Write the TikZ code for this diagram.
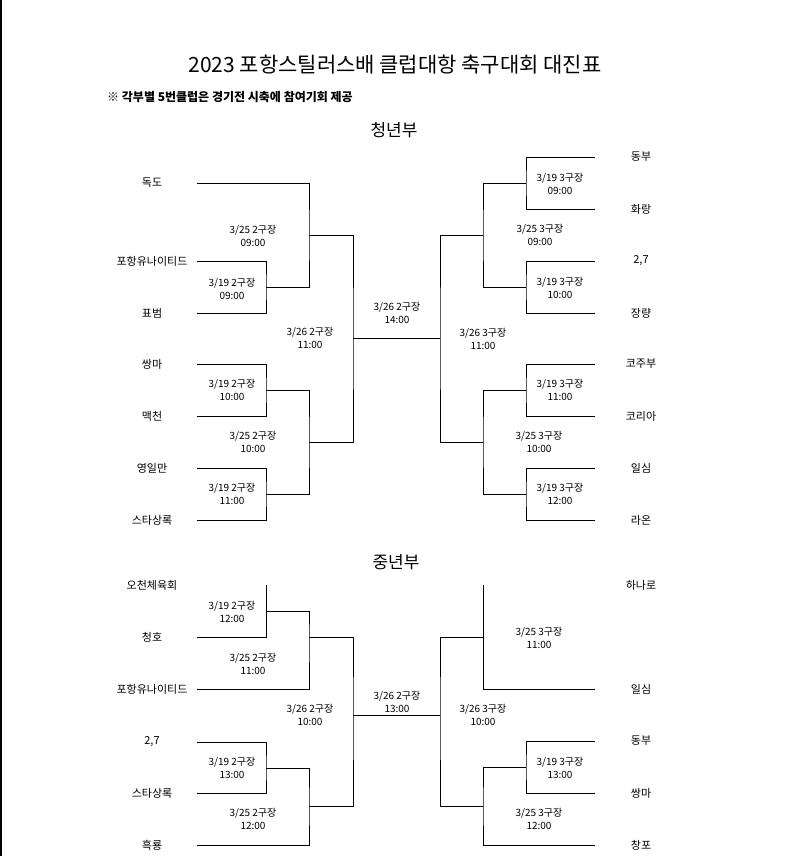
\documentclass[tikz,border=0pt]{standalone}
\usepackage{fontspec}
\setmainfont{Noto Sans CJK KR}
\begin{document}
\begin{tikzpicture}[x=1pt,y=-1pt,
  team/.style={inner sep=0pt, font=\fontsize{11}{12}\selectfont},
  game/.style={inner sep=0pt, align=center, font=\fontsize{10}{13}\selectfont},
  head/.style={inner sep=0pt, font=\fontsize{17}{19}\selectfont},
  bk/.style={line width=1pt}]
\useasboundingbox (0,0) rectangle (790,856);
\draw[line width=1.5pt] (0.75,0) -- (0.75,856);
\node[inner sep=0pt, font=\fontsize{21}{24}\selectfont] (title) at (395,65) {2023 포항스틸러스배 클럽대항 축구대회 대진표};
\node[inner sep=0pt, anchor=west, font=\bfseries\fontsize{12}{14}\selectfont] (note) at (107,97) {※ 각부별 5번클럽은 경기전 시축에 참여기회 제공};
\node[head] (youth) at (394,130) {청년부};
\node[head] (middle) at (396,562) {중년부};
% 청년부 left
\node[team] (yl1) at (152,183) {독도};
\node[team] (yl2) at (152,261) {포항유나이티드};
\node[team] (yl3) at (152,313) {표범};
\node[team] (yl4) at (152,364) {쌍마};
\node[team] (yl5) at (152,416) {맥천};
\node[team] (yl6) at (152,468) {영일만};
\node[team] (yl7) at (152,520) {스타상록};
\coordinate (yl1e) at (197,183);
\coordinate (yl2e) at (197,261);
\coordinate (yl3e) at (197,313);
\coordinate (yl4e) at (197,364);
\coordinate (yl5e) at (197,416);
\coordinate (yl6e) at (197,468);
\coordinate (yl7e) at (197,520);
\coordinate (yla) at (266,287);
\coordinate (ylb) at (309,235);
\coordinate (ylc) at (266,390);
\coordinate (yld) at (266,494);
\coordinate (yle) at (309,442);
\coordinate (ylf) at (353,338);
\draw[bk] (yl2e) -| (yla) |- (yl3e);
\draw[bk] (yl1e) -| (ylb) |- (yla);
\draw[bk] (yl4e) -| (ylc) |- (yl5e);
\draw[bk] (yl6e) -| (yld) |- (yl7e);
\draw[bk] (ylc) -| (yle) |- (yld);
\draw[bk] (ylb) -| (ylf) |- (yle);
\node[game] (gyla) at (232,289) {3/19 2구장\\09:00};
\node[game] (gylb) at (253,236) {3/25 2구장\\09:00};
\node[game] (gylc) at (232,390) {3/19 2구장\\10:00};
\node[game] (gyle) at (253,442) {3/25 2구장\\10:00};
\node[game] (gyld) at (232,494) {3/19 2구장\\11:00};
\node[game] (gylf) at (310,338) {3/26 2구장\\11:00};
\node[game] (gyfin) at (397,313) {3/26 2구장\\14:00};
% 청년부 right
\node[team] (yr1) at (641,157) {동부};
\node[team] (yr2) at (641,209) {화랑};
\node[team] (yr3) at (641,261) {2,7};
\node[team] (yr4) at (641,313) {장량};
\node[team] (yr5) at (641,364) {코주부};
\node[team] (yr6) at (641,416) {코리아};
\node[team] (yr7) at (641,468) {일심};
\node[team] (yr8) at (641,520) {라온};
\coordinate (yr1e) at (595,157);
\coordinate (yr2e) at (595,209);
\coordinate (yr3e) at (595,261);
\coordinate (yr4e) at (595,313);
\coordinate (yr5e) at (595,364);
\coordinate (yr6e) at (595,416);
\coordinate (yr7e) at (595,468);
\coordinate (yr8e) at (595,520);
\coordinate (yra) at (526,183);
\coordinate (yrb) at (526,287);
\coordinate (yrc) at (483,235);
\coordinate (yrd) at (526,390);
\coordinate (yre) at (526,494);
\coordinate (yrg) at (483,442);
\coordinate (yrf) at (440,338);
\draw[bk] (yr1e) -| (yra) |- (yr2e);
\draw[bk] (yr3e) -| (yrb) |- (yr4e);
\draw[bk] (yr5e) -| (yrd) |- (yr6e);
\draw[bk] (yr7e) -| (yre) |- (yr8e);
\draw[bk] (yra) -| (yrc) |- (yrb);
\draw[bk] (yrd) -| (yrg) |- (yre);
\draw[bk] (yrc) -| (yrf) |- (yrg);
\draw[bk] (ylf) -- (yrf);
\node[game] (gyra) at (560,184) {3/19 3구장\\09:00};
\node[game] (gyrc) at (540,235) {3/25 3구장\\09:00};
\node[game] (gyrb) at (560,288) {3/19 3구장\\10:00};
\node[game] (gyrf) at (483,339) {3/26 3구장\\11:00};
\node[game] (gyrd) at (560,390) {3/19 3구장\\11:00};
\node[game] (gyrg) at (539,442) {3/25 3구장\\10:00};
\node[game] (gyre) at (560,494) {3/19 3구장\\12:00};
% 중년부 left
\node[team] (ml1) at (152,585) {오천체육회};
\node[team] (ml2) at (152,637) {청호};
\node[team] (ml3) at (152,689) {포항유나이티드};
\node[team] (ml4) at (152,742) {2,7};
\node[team] (ml5) at (152,793) {스타상록};
\node[team] (ml6) at (152,845) {흑룡};
\coordinate (ml1e) at (266,585);
\coordinate (ml2e) at (197,637);
\coordinate (ml3e) at (197,689);
\coordinate (ml4e) at (197,742);
\coordinate (ml5e) at (197,793);
\coordinate (ml6e) at (197,845);
\coordinate (mla) at (266,611);
\coordinate (mlb) at (309,637);
\coordinate (mlc) at (266,768);
\coordinate (mld) at (309,806);
\coordinate (mle) at (353,715);
\draw[bk] (ml1e) |- (ml2e);
\draw[bk] (mla) -| (mlb) |- (ml3e);
\draw[bk] (ml4e) -| (mlc) |- (ml5e);
\draw[bk] (mlc) -| (mld) |- (ml6e);
\draw[bk] (mlb) -| (mle) |- (mld);
\node[game] (gmla) at (232,612) {3/19 2구장\\12:00};
\node[game] (gmlb) at (253,664) {3/25 2구장\\11:00};
\node[game] (gmle) at (310,715) {3/26 2구장\\10:00};
\node[game] (gmfin) at (397,702) {3/26 2구장\\13:00};
\node[game] (gmlc) at (232,768) {3/19 2구장\\13:00};
\node[game] (gmld) at (253,819) {3/25 2구장\\12:00};
% 중년부 right
\node[team] (mr1) at (641,585) {하나로};
\node[team] (mr2) at (641,689) {일심};
\node[team] (mr3) at (641,741) {동부};
\node[team] (mr4) at (641,793) {쌍마};
\node[team] (mr5) at (641,845) {창포};
\coordinate (mr1e) at (483,585);
\coordinate (mr2e) at (595,689);
\coordinate (mr3e) at (595,741);
\coordinate (mr4e) at (595,793);
\coordinate (mr5e) at (595,845);
\coordinate (mra) at (483,637);
\coordinate (mrb) at (526,767);
\coordinate (mrc) at (483,806);
\coordinate (mrf) at (440,715);
\draw[bk] (mr1e) |- (mr2e);
\draw[bk] (mr3e) -| (mrb) |- (mr4e);
\draw[bk] (mrb) -| (mrc) |- (mr5e);
\draw[bk] (mra) -| (mrf) |- (mrc);
\draw[bk] (mle) -- (mrf);
\node[game] (gmra) at (539,638) {3/25 3구장\\11:00};
\node[game] (gmrf) at (483,715) {3/26 3구장\\10:00};
\node[game] (gmrb) at (560,768) {3/19 3구장\\13:00};
\node[game] (gmrc) at (539,819) {3/25 3구장\\12:00};
\end{tikzpicture}
\end{document}
